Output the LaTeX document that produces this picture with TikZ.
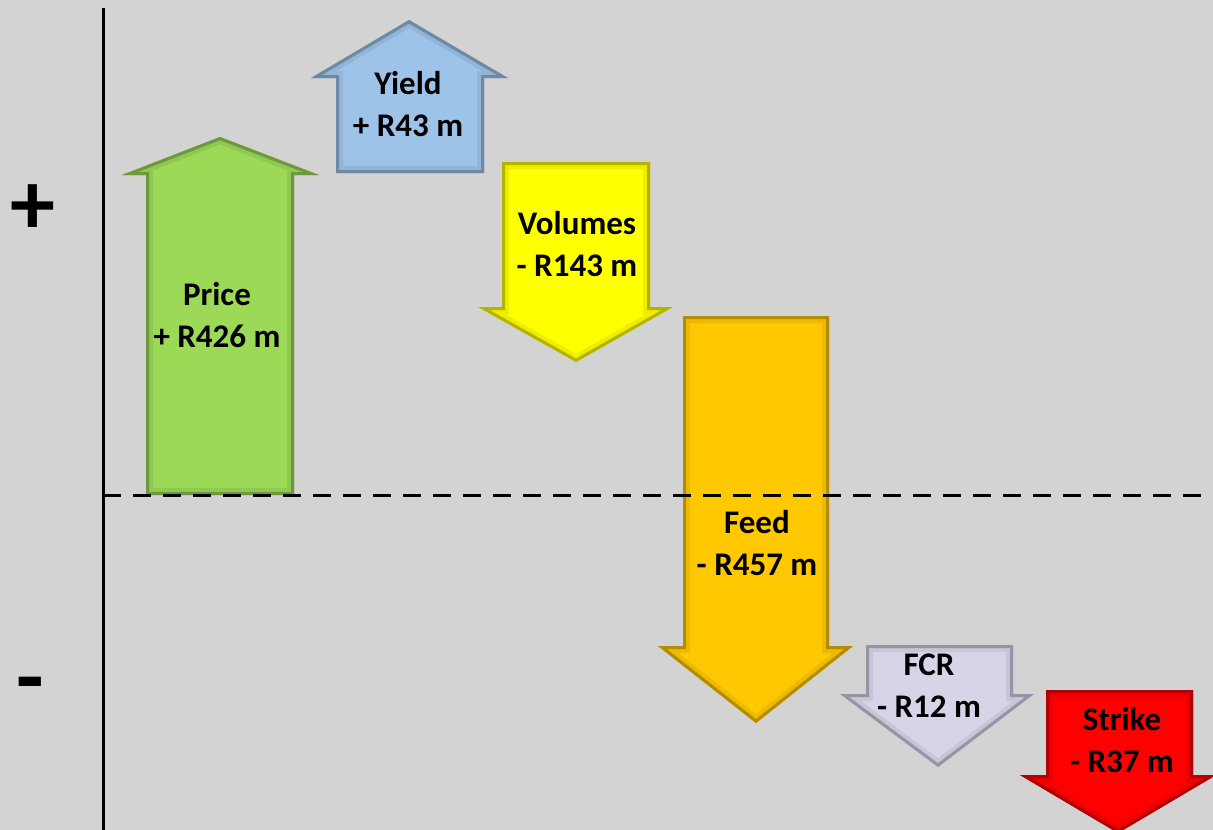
\documentclass[tikz,border=0pt]{standalone}
\usepackage{fontspec}
\setmainfont{Carlito}
\definecolor{bg}{HTML}{D3D3D3}
\definecolor{cprice}{HTML}{9BD957}
\definecolor{cyield}{HTML}{9DC3E8}
\definecolor{cvol}{HTML}{FFFF00}
\definecolor{cfeed}{HTML}{FFC800}
\definecolor{cfcr}{HTML}{D9D3E8}
\definecolor{cstrike}{HTML}{FF0000}
\tikzset{
  lbl/.style={font=\fontsize{33}{42}\selectfont\bfseries, align=center, text=black, inner sep=0pt},
  sign/.style={font=\fontsize{90}{90}\selectfont\bfseries, text=black, inner sep=0pt},
  axis/.style={line width=3pt, black},
  zero/.style={line width=3pt, black, dash pattern=on 18pt off 12pt},
}
\newcommand\arrowshape[2]{%
  \begin{scope}
    \fill[#1] #2;
    \clip #2;
    \draw[#1!65!black, line width=6pt, line join=miter] #2;
    \draw[#1!80!black, line width=14pt, opacity=0.35, line join=miter] #2;
  \end{scope}}
\begin{document}
\begin{tikzpicture}[x=1pt, y=-1pt]
\fill[bg] (0,0) rectangle (1213,830);
\useasboundingbox (0,0) rectangle (1213,830);
% axes
\coordinate (axtop) at (103,8);
\coordinate (axbot) at (103,830);
\coordinate (zl) at (103,495);
\coordinate (zr) at (1213,495);
% arrows
\arrowshape{cprice}{(146,495) -- (146,175) -- (122,175) -- (220,137) -- (319,175) -- (294,175) -- (294,495) -- cycle}
\arrowshape{cyield}{(336,173) -- (336,78) -- (311,78) -- (409,20) -- (508,78) -- (484,78) -- (484,173) -- cycle}
\arrowshape{cvol}{(502,162) -- (502,307) -- (478,307) -- (576,362) -- (673,307) -- (650,307) -- (650,162) -- cycle}
\arrowshape{cfeed}{(683,316) -- (683,646) -- (658,646) -- (756,723) -- (853,646) -- (829,646) -- (829,316) -- cycle}
\arrowshape{cfcr}{(866,645) -- (866,694) -- (840,694) -- (938,767) -- (1034,694) -- (1013,694) -- (1013,645) -- cycle}
\arrowshape{cstrike}{(1046,690) -- (1046,775) -- (1020,775) -- (1118,833) -- (1216,775) -- (1193,775) -- (1193,690) -- cycle}
\draw[zero] (zl) -- (zr);
\draw[axis] (axtop) -- (axbot);
% labels
\node[lbl] (price) at (217,315) {Price\\+ R426 m};
\node[lbl] (yield) at (408,104) {Yield\\+ R43 m};
\node[lbl] (vol) at (577,244) {Volumes\\- R143 m};
\node[lbl] (feed) at (757,543) {Feed\\- R457 m};
\node[lbl] (fcr) at (929,686) {FCR\\- R12 m};
\node[lbl] (strike) at (1122,740) {Strike\\- R37 m};
\node[sign] (plus) at (33,210) {+};
\node[sign] (minus) at (30,692) {-};
\end{tikzpicture}
\end{document}
